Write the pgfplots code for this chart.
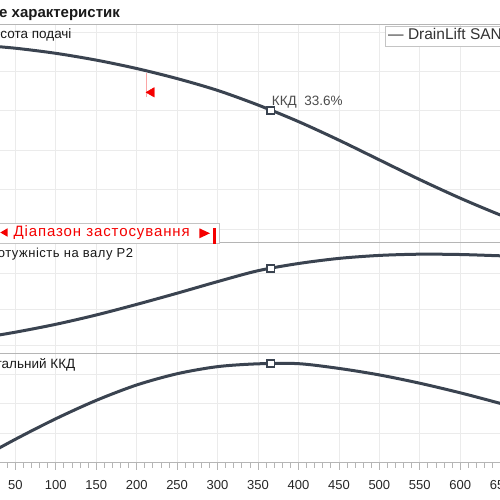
\documentclass[border=0pt]{standalone}
\usepackage{fontspec}
\setmainfont{Liberation Sans}
\usepackage{pgfplots}
\pgfplotsset{compat=1.18}

\definecolor{curve}{HTML}{3A4350}
\definecolor{gridc}{HTML}{EBEBEB}
\definecolor{framec}{HTML}{B5B5B5}
\definecolor{rng}{HTML}{F50000}

\pgfplotsset{
 panel/.style={
  scale only axis, width=566.3pt, xmin=0, xmax=700,
  anchor=south west,
  xtick={0,50,...,700},
  grid=major, major grid style={gridc, line width=0.8pt},
  axis line style={framec, line width=1pt},
  yticklabels={}, ytick style={draw=none},
 },
 curvestyle/.style={curve, line width=3pt, smooth, no marks},
 mk/.style={only marks, mark=square*, mark size=3.6pt, mark options={fill=white, draw=curve, line width=1.8pt}},
}

\begin{document}
\begin{tikzpicture}
\useasboundingbox (0pt,0pt) rectangle (500pt,500pt);
\clip (0pt,0pt) rectangle (500pt,500pt);

% ---------- Panel 1: head ----------
\begin{axis}[panel, at={(-25.15pt,257pt)}, height=218pt,
  ymin=0.654, ymax=6.175, ytick={1,2,3,4,5,6},
  xticklabels={}, xtick style={draw=none}]
\addplot[curvestyle] coordinates {
 (0,5.675) (50,5.587) (100,5.458) (150,5.286) (200,5.073) (250,4.818)
 (300,4.519) (350,4.149) (400,3.729) (450,3.259) (500,2.759) (550,2.259)
 (600,1.789) (650,1.359) (700,0.97)};
\addplot[mk] coordinates {(366,4.015)};
\addplot[rng!35, line width=0.8pt] coordinates {(211.6,4.35) (211.6,4.96)};
\addplot[only marks, mark=triangle*, mark size=5.5pt, rng, mark options={rotate=90, fill=rng, draw=rng}] coordinates {(218.4,4.47)};
\end{axis}

% ---------- Panel 2: power ----------
\begin{axis}[panel, at={(-25.15pt,146.7pt)}, height=110.3pt,
  ymin=0.778, ymax=3.842, ytick={1,2,3},
  xticklabels={}, xtick style={draw=none}]
\addplot[curvestyle] coordinates {
 (0,1.175) (50,1.364) (100,1.583) (150,1.842) (200,2.136) (250,2.447)
 (300,2.769) (350,3.072) (400,3.272) (450,3.414) (500,3.497) (550,3.531)
 (600,3.522) (650,3.486) (700,3.45)};
\addplot[mk] coordinates {(366,3.14)};
\end{axis}

% ---------- Panel 3: efficiency ----------
\begin{axis}[panel, at={(-25.15pt,37.1pt)}, height=109.6pt,
  ymin=0, ymax=37.0, ytick={10,20,30},
  minor x tick num=4, xtick pos=bottom, tick align=outside,
  major tick length=7pt, minor tick length=5pt,
  xtick style={framec, line width=0.8pt},
  /pgf/number format/assume math mode=true,
  xticklabel style={font=\fontsize{13}{15}\selectfont, text=black!85, yshift=-7pt}]
\addplot[curvestyle] coordinates {
 (0,0.5) (50,7.96) (100,14.9) (150,21.1) (200,26.3) (250,30.1)
 (300,32.5) (350,33.45) (400,33.5) (450,31.9) (500,29.7) (550,26.9)
 (600,23.66) (650,20.05) (700,16.2)};
\addplot[mk] coordinates {(366,33.6)};
\end{axis}

% ---------- annotations ----------
\begin{scope}[x=1pt,y=1pt]
\node[anchor=base west, inner sep=0, font=\fontsize{15}{17}\selectfont\bfseries, text=black!90] at (-1,482.5) {е характеристик};
\draw[framec, line width=1pt] (0,475) -- (500,475);

\node[anchor=base east, inner sep=0, font=\fontsize{13.5}{16}\selectfont, text=black!90] at (71.7,461.7) {Висота подачі};
\node[anchor=base east, inner sep=0, font=\fontsize{13}{16}\selectfont\addfontfeature{LetterSpace=4}, text=black!90] at (133.3,242.3) {Потужність на валу P2};
\node[anchor=base east, inner sep=0, font=\fontsize{13.5}{16}\selectfont, text=black!90] at (75.5,131.7) {Загальний ККД};
\node[anchor=base west, inner sep=0, font=\fontsize{13.5}{16}\selectfont, text=black!70] at (271.7,394) {ККД\ \ 33.6\%};

% legend
\filldraw[fill=white, draw=framec!80, line width=0.8pt] (385,453.3) rectangle (530,474);
\node[anchor=base west, inner sep=0, font=\fontsize{15.5}{18}\selectfont, text=black!80] at (388,460) {— DrainLift SANI};

% range box
\filldraw[fill=white, draw=framec!80, line width=0.8pt] (-10,256.7) rectangle (219.3,276.7);
\fill[rng] (0.3,267.5) -- (7.5,271.7) -- (7.5,263.3) -- cycle;
\node[anchor=base west, inner sep=0, font=\fontsize{15}{17}\selectfont\addfontfeature{LetterSpace=6}, text=rng] at (13.3,263.3) {Діапазон застосування};
\fill[rng] (210,266.7) -- (199.3,271.7) -- (199.3,261.7) -- cycle;
\fill[rng] (213.4,255.7) rectangle (216,271.7);
\end{scope}
\end{tikzpicture}
\end{document}
